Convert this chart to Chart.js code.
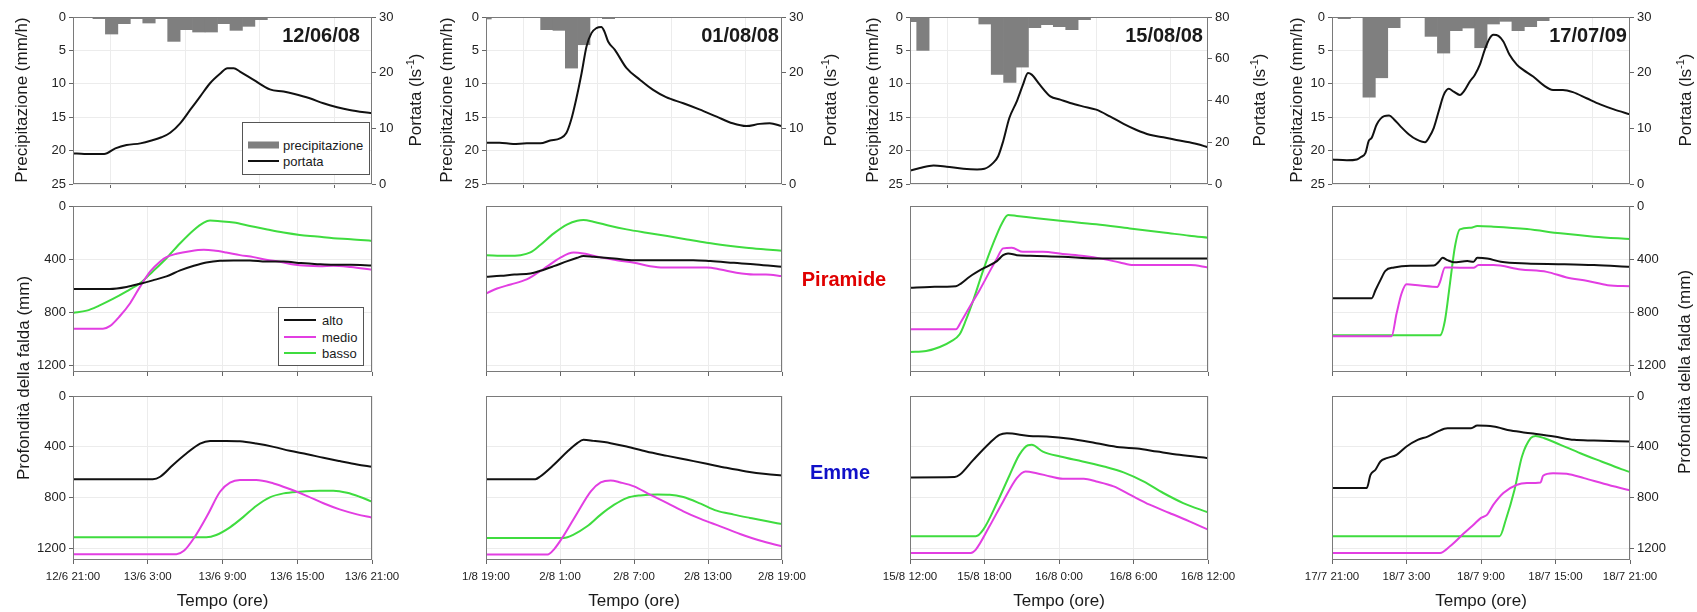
<!DOCTYPE html>
<html>
<head>
<meta charset="utf-8">
<script src="https://cdn.jsdelivr.net/npm/chart.js@4.4.0/dist/chart.umd.min.js"></script>
<style>
  body { margin: 0; background: #fff; }
  #tavola { position: relative; width: 1697px; height: 612px; overflow: hidden;
            font-family: 'Liberation Sans', Arial, sans-serif; color: #1a1a1a; }
  .pannello { position: absolute; }
  .testo { position: absolute; white-space: nowrap; transform: translate(-50%, -50%); }
  .verticale { font-size: 17px; transform: translate(-50%, -50%) rotate(-90deg); }
  .tempo { font-size: 17px; }
  .data { font-size: 20px; font-weight: bold; transform: translate(-100%, -50%); }
  .sito { font-size: 20px; font-weight: bold; }
  .legenda { position: absolute; box-sizing: border-box; border: 1px solid #555; background: #fff; font-size: 13px; }
  .legenda span { position: absolute; white-space: nowrap; transform: translateY(-50%); }
  sup { font-size: 11px; }
</style>
</head>
<body>
<div id="tavola"></div>
<script>
// eventi, ore sull'asse x (0-24 h dall'inizio finestra)
const eventi = ['12/06/08', '01/08/08', '15/08/08', '17/07/09'];
const oreEtichette = [
  ['12/6 21:00', '13/6 3:00', '13/6 9:00', '13/6 15:00', '13/6 21:00'],
  ['1/8 19:00', '2/8 1:00', '2/8 7:00', '2/8 13:00', '2/8 19:00'],
  ['15/8 12:00', '15/8 18:00', '16/8 0:00', '16/8 6:00', '16/8 12:00'],
  ['17/7 21:00', '18/7 3:00', '18/7 9:00', '18/7 15:00', '18/7 21:00']
];
const portataMax = [30, 30, 80, 30];
const portataPasso = [10, 10, 20, 10];
const tickProfondita = [0, 400, 800, 1200];

// pioggia oraria (mm/h): ora d'inizio della prima barra, poi una barra per ora
const pioggiaInizio = [1.6, -0.57, -0.46, -0.51];
const pioggia = [
  [0.25, 2.55, 1.0, 0.25, 0.9, 0.25, 3.65, 1.9, 2.25, 2.25, 1.0, 2.0, 1.4, 0.4],
  [0.3, 0, 0, 0, 0, 1.9, 2.0, 7.65, 4.15, 0, 0.25],
  [0.7, 5.0, 0, 0, 0, 0, 1.05, 8.6, 9.8, 7.5, 1.6, 1.15, 1.45, 1.9, 0.4],
  [0, 0.25, 0, 12.0, 9.1, 1.6, 0, 0, 2.9, 5.4, 2.05, 1.65, 4.6, 1.05, 0.65, 2.05, 1.45, 0.55]
];

// portata (l/s) come [ora, valore]
const portata = [
  [[0,5.5],[0.9,5.4],[1.9,5.4],[2.5,5.4],[3.4,6.4],[4.3,7.0],[5.4,7.3],[6.3,7.8],[7.1,8.4],[7.8,9.2],[8.6,10.9],[9.4,13.3],[10.2,15.7],[11.0,18.1],[11.8,19.8],[12.4,20.8],[12.9,20.8],[13.4,20.2],[14.5,18.7],[15.8,17.0],[16.9,16.6],[17.7,16.2],[19.0,15.4],[20.1,14.5],[21.2,13.8],[22.2,13.3],[24,12.7]],
  [[0,7.4],[1.1,7.4],[2.2,7.2],[3.3,7.3],[4.4,7.3],[5.2,7.8],[6.0,8.2],[6.5,9.1],[6.9,11.5],[7.3,15.1],[7.75,19.9],[8.15,24.7],[8.55,27.1],[8.95,28.0],[9.35,28.2],[9.6,27.4],[9.9,25.6],[10.45,24.1],[11.4,20.8],[12.5,18.7],[13.55,16.9],[14.6,15.6],[16.0,14.5],[17.3,13.4],[18.7,12.1],[20.0,10.9],[21.1,10.4],[22.2,10.8],[23.0,10.9],[24,10.4]],
  [[0,6.4],[0.8,7.7],[1.9,8.9],[2.95,8.3],[4.3,7.3],[5.4,7.0],[6.0,7.3],[6.7,10.1],[7.1,13.3],[7.5,20.4],[8.0,31.6],[8.6,39.6],[9.1,47.6],[9.5,53.2],[9.8,52.4],[10.45,47.6],[11.3,42.0],[12.1,40.4],[12.9,38.8],[13.9,37.2],[15.0,35.6],[16.1,32.4],[17.2,28.8],[18.2,26.0],[19.3,23.6],[20.4,22.4],[21.7,20.8],[23.1,19.2],[24,17.6]],
  [[0,4.4],[1.2,4.25],[2.0,4.4],[2.3,4.8],[2.7,5.6],[2.95,7.7],[3.2,8.3],[3.6,10.7],[4.2,12.2],[4.6,12.3],[5.0,11.6],[5.5,10.4],[6.2,8.9],[6.8,8.0],[7.5,7.5],[7.8,8.3],[8.2,10.1],[8.6,13.1],[9.0,16.0],[9.4,17.1],[9.8,16.6],[10.3,16.0],[10.7,16.9],[11.1,18.4],[11.5,19.6],[11.9,21.4],[12.3,24.1],[12.7,26.2],[13.0,26.8],[13.4,26.6],[13.8,25.6],[14.3,23.2],[14.9,21.4],[15.4,20.5],[16.2,19.3],[17.0,17.8],[17.8,16.9],[18.6,16.9],[19.4,16.5],[20.5,15.4],[21.6,14.3],[22.7,13.4],[24,12.5]]
];

// profondità della falda (mm), sito Piramide
const piramideAlto = [
  [[0,625],[2.95,625],[4.3,610],[5.4,585],[6.4,560],[7.5,530],[8.6,485],[9.7,450],[10.7,425],[11.8,412],[12.9,410],[14.2,410],[15.5,418],[16.9,418],[18.3,430],[19.6,438],[20.9,443],[22.3,443],[24,448]],
  [[0,533],[1.2,526],[2.3,516],[3.6,508],[4.4,488],[5.5,453],[6.6,415],[7.4,390],[7.9,377],[8.7,382],[10.4,395],[12.0,408],[13.6,408],[15.2,408],[16.8,408],[18.2,415],[20.1,428],[21.9,440],[24,458]],
  [[0,616],[1.6,609],[3.7,604],[4.1,584],[4.8,533],[5.9,470],[7.0,415],[7.5,370],[7.9,357],[8.6,370],[9.7,375],[12.3,382],[15.0,395],[17.7,395],[20.4,395],[24,395]],
  [[0,694],[3.2,694],[3.5,634],[3.9,558],[4.3,488],[5.0,463],[6.3,450],[8.2,448],[8.6,420],[8.9,390],[9.3,408],[9.8,423],[10.9,415],[11.4,420],[11.7,390],[12.5,395],[13.6,420],[15.7,433],[18.4,438],[21.1,445],[24,458]]
];
const piramideMedio = [
  [[0,925],[2.4,925],[2.95,905],[3.75,830],[4.6,730],[5.4,605],[6.2,493],[7.0,418],[7.5,385],[8.3,360],[9.4,340],[10.5,330],[11.3,335],[12.3,350],[13.4,370],[14.5,385],[15.5,405],[16.6,420],[17.7,440],[18.8,450],[19.8,453],[20.9,450],[22.3,460],[24,480]],
  [[0,659],[0.9,621],[2.0,591],[3.3,553],[3.9,521],[5.0,453],[6.0,390],[7.1,350],[7.9,357],[9.3,387],[10.6,408],[12.0,428],[13.3,453],[14.4,463],[16.0,463],[17.9,463],[19.0,478],[20.3,503],[21.7,516],[22.7,516],[24,528]],
  [[0,928],[3.7,928],[4.1,873],[4.8,760],[5.6,634],[6.4,496],[7.0,395],[7.5,319],[8.2,314],[9.1,345],[10.7,345],[12.3,362],[14.0,377],[15.6,400],[16.9,425],[18.0,445],[19.9,445],[22.6,445],[24,463]],
  [[0,981],[4.8,981],[5.2,810],[5.6,659],[6.0,589],[7.1,599],[8.5,609],[8.7,571],[9.1,463],[10.3,465],[11.4,465],[11.8,445],[13.0,445],[15.2,478],[17.3,496],[18.9,538],[20.6,564],[22.2,596],[24,604]]
];
const piramideBasso = [
  [[0,805],[1.1,788],[2.1,750],[3.2,700],[4.3,643],[5.4,580],[6.4,493],[7.5,393],[8.6,280],[9.7,180],[10.5,125],[11.0,110],[11.8,115],[12.9,125],[14.2,150],[15.5,175],[16.9,200],[18.2,218],[19.6,230],[20.9,243],[22.3,250],[24,263]],
  [[0,370],[1.7,375],[2.8,370],[3.6,350],[4.4,294],[5.5,206],[6.6,138],[7.4,111],[7.9,106],[8.7,118],[10.1,151],[11.4,176],[13.0,201],[14.7,226],[16.3,252],[17.9,277],[19.5,297],[21.1,314],[22.7,327],[24,337]],
  [[0,1099],[1.3,1092],[2.4,1062],[3.3,1019],[4.0,966],[4.5,860],[5.1,709],[5.9,483],[6.7,282],[7.4,131],[7.9,68],[8.6,75],[10.2,93],[12.3,113],[15.0,138],[17.7,169],[20.4,199],[22.5,224],[24,239]],
  [[0,974],[8.7,974],[9.1,860],[9.5,584],[9.9,307],[10.3,176],[11.2,164],[11.7,151],[13.0,156],[15.7,174],[18.4,206],[21.1,231],[24,249]]
];

// profondità della falda (mm), sito Emme
const emmeAlto = [
  [[0,654],[6.4,654],[7.0,635],[8.0,544],[9.1,452],[10.2,374],[11.0,353],[12.3,353],[13.4,356],[14.7,374],[16.1,400],[17.4,431],[18.8,458],[20.1,486],[21.4,512],[22.8,539],[24,557]],
  [[0,654],[4.0,654],[4.4,633],[5.5,541],[6.6,437],[7.4,371],[7.9,345],[8.7,353],[10.1,371],[11.4,397],[13.0,437],[14.7,471],[16.3,502],[17.9,533],[19.5,565],[21.1,593],[22.7,614],[24,625]],
  [[0,641],[3.6,638],[4.0,620],[5.1,502],[6.4,371],[7.2,306],[7.8,293],[9.6,314],[11.0,319],[12.9,337],[15.0,371],[16.9,403],[18.3,413],[19.9,437],[21.7,463],[24,489]],
  [[0,724],[2.8,724],[3.1,620],[3.5,580],[3.9,515],[4.4,489],[5.2,463],[6.0,397],[6.9,345],[7.7,319],[8.5,280],[9.3,254],[10.3,254],[11.2,254],[11.7,233],[13.0,240],[14.4,272],[16.0,293],[17.9,319],[19.5,345],[21.1,350],[24,358]]
];
const emmeMedio = [
  [[0,1244],[8.3,1244],[8.9,1218],[9.7,1119],[10.8,936],[11.8,753],[12.6,682],[13.4,661],[14.7,661],[16.1,688],[17.4,732],[18.8,787],[20.1,844],[21.4,892],[22.8,931],[24,957]],
  [[0,1247],[5.0,1247],[5.5,1208],[6.3,1098],[7.4,920],[8.5,750],[9.3,680],[10.1,664],[10.9,680],[12.0,711],[13.3,776],[14.7,842],[16.0,907],[17.4,967],[19.0,1025],[20.6,1085],[22.2,1137],[24,1182]],
  [[0,1234],[4.9,1234],[5.3,1208],[6.4,1025],[7.5,829],[8.6,646],[9.3,593],[10.2,607],[11.3,633],[12.3,651],[14.0,651],[15.0,672],[16.4,711],[17.7,776],[19.3,855],[20.9,920],[22.5,986],[24,1051]],
  [[0,1234],[8.7,1234],[9.5,1182],[10.6,1082],[11.4,1012],[12.0,959],[12.5,933],[13.0,855],[13.8,763],[14.9,698],[15.7,685],[16.8,680],[17.0,627],[17.8,607],[18.9,612],[20.3,646],[21.9,690],[24,742]]
];
const emmeBasso = [
  [[0,1111],[10.7,1111],[11.5,1093],[12.6,1033],[13.7,949],[14.7,865],[15.8,797],[16.9,766],[18.2,753],[19.8,745],[20.9,745],[22.0,761],[23.0,792],[24,831]],
  [[0,1116],[6.3,1116],[7.1,1090],[8.2,1025],[9.3,933],[10.4,855],[11.4,803],[12.5,782],[13.9,774],[14.9,776],[16.0,795],[17.4,847],[18.7,902],[20.1,933],[21.4,959],[22.8,986],[24,1007]],
  [[0,1103],[5.3,1103],[5.9,1051],[7.0,842],[8.0,627],[8.8,463],[9.5,387],[9.8,384],[10.7,437],[12.1,476],[13.9,515],[15.8,559],[17.2,601],[18.8,672],[20.4,763],[22.0,842],[24,915]],
  [[0,1103],[13.5,1103],[14.0,973],[14.7,737],[15.3,476],[16.0,332],[16.4,314],[17.1,332],[18.4,384],[20.0,450],[21.7,515],[23.3,575],[24,599]]
];

const livelli = ['alto', 'medio', 'basso'];
const coloriLivelli = ['#111111', '#e23ee2', '#3fdc3f'];

// geometria dei pannelli (px)
const colSx = [73, 486, 910, 1332];
const colDx = [372, 782, 1208, 1630];
const rigaSu = [17, 206, 396];
const rigaGiu = [184, 372, 560];
const profMax = [null, 1250, 1290];
const MS = 45, MT = 12, MB = 32;

Chart.defaults.font.family = "'Liberation Sans', Arial, sans-serif";
Chart.defaults.color = '#222';

const tavola = document.getElementById('tavola');

// bordo grigio attorno all'area del grafico
const cornice = {
  id: 'cornice',
  afterDatasetsDraw(chart) {
    const { ctx, chartArea: a } = chart;
    ctx.save();
    ctx.strokeStyle = '#7a7a7a';
    ctx.lineWidth = 1;
    ctx.strokeRect(a.left + 0.5, a.top + 0.5, a.width - 1, a.height - 1);
    ctx.restore();
  }
};

const punti = arr => arr.map(([x, y]) => ({ x, y }));

function asseX(col, conEtichette) {
  return {
    type: 'linear', min: 0, max: 24, offset: false,
    ticks: {
      stepSize: 6, display: conEtichette, autoSkip: false, maxRotation: 0,
      padding: 6, color: '#222', font: { size: 11.5 },
      callback: v => oreEtichette[col][v / 6]
    },
    grid: { color: '#ececec', tickColor: '#666', tickLength: 4 },
    border: { display: false },
    afterFit: s => { s.height = MB; }
  };
}

function asseY(pos, max, passo, rovescio, conEtichette, conGriglia, valori) {
  const asse = {
    type: 'linear', position: pos, min: 0, max, reverse: rovescio,
    ticks: {
      stepSize: passo, display: conEtichette,
      padding: 3, color: '#222', font: { size: 13 },
      callback: v => String(v)
    },
    grid: {
      drawOnChartArea: conGriglia, drawTicks: conEtichette,
      color: '#ececec', tickColor: '#666', tickLength: 4
    },
    border: { display: false },
    afterFit: s => { s.width = MS; }
  };
  if (valori) asse.afterBuildTicks = s => { s.ticks = valori.map(v => ({ value: v })); };
  return asse;
}

function pannello(col, riga, datasets, scales) {
  const w = colDx[col] - colSx[col] + 2 * MS;
  const h = rigaGiu[riga] - rigaSu[riga] + MT + MB;
  const box = document.createElement('div');
  box.className = 'pannello';
  box.style.left = (colSx[col] - MS) + 'px';
  box.style.top = (rigaSu[riga] - MT) + 'px';
  const cv = document.createElement('canvas');
  cv.width = w; cv.height = h;
  box.appendChild(cv);
  tavola.appendChild(box);
  new Chart(cv, {
    data: { datasets },
    options: {
      responsive: false, animation: false,
      layout: { padding: { top: MT, left: 0, right: 0, bottom: 0 } },
      plugins: { legend: { display: false }, tooltip: { enabled: false } },
      scales
    },
    plugins: [cornice]
  });
}

function linea(dati, colore, asse) {
  return {
    type: 'line', data: punti(dati), yAxisID: asse,
    borderColor: colore, borderWidth: 2, pointRadius: 0,
    cubicInterpolationMode: 'monotone', order: 1
  };
}

for (let c = 0; c < 4; c++) {
  // pioggia + portata
  const barre = pioggia[c].map((v, i) => ({ x: pioggiaInizio[c] + i + 0.5, y: v }));
  pannello(c, 0, [
    { type: 'bar', data: barre, yAxisID: 'y', backgroundColor: '#7f7f7f', borderWidth: 0,
      barPercentage: 1, categoryPercentage: 1, grouped: false, clip: 0, order: 2 },
    linea(portata[c], '#111111', 'yP')
  ], {
    x: asseX(c, false),
    y: asseY('left', 25, 5, true, true, true),
    yP: asseY('right', portataMax[c], portataPasso[c], false, true, false)
  });

  // falda: Piramide (riga 1) ed Emme (riga 2)
  const siti = [[piramideAlto, piramideMedio, piramideBasso], [emmeAlto, emmeMedio, emmeBasso]];
  siti.forEach((serie, k) => {
    const riga = k + 1;
    pannello(c, riga, serie.map((s, i) => linea(s[c], coloriLivelli[i], 'y')), {
      x: asseX(c, riga === 2),
      y: asseY('left', profMax[riga], 400, true, c === 0, true, tickProfondita),
      yR: asseY('right', profMax[riga], 400, true, c === 3, false, tickProfondita)
    });
  });
}

// testi
function testo(html, x, y, classe, stile) {
  const d = document.createElement('div');
  d.className = 'testo ' + classe;
  d.innerHTML = html;
  d.style.left = x + 'px';
  d.style.top = y + 'px';
  if (stile) Object.assign(d.style, stile);
  tavola.appendChild(d);
}

const titoloPioggiaX = [22, 447, 873, 1297];
const titoloPortataX = [415, 830, 1259, 1685];
const dataDx = [360, 779, 1203, 1627];
for (let c = 0; c < 4; c++) {
  testo('Precipitazione (mm/h)', titoloPioggiaX[c], 100, 'verticale');
  testo('Portata (ls<sup>-1</sup>)', titoloPortataX[c], 100, 'verticale');
  testo(eventi[c], dataDx[c], 35, 'data');
  testo('Tempo (ore)', (colSx[c] + colDx[c]) / 2, 601, 'tempo');
}
testo('Profondità della falda (mm)', 24, 378, 'verticale');
testo('Profondità della falda (mm)', 1685, 372, 'verticale');
testo('Piramide', 844, 279, 'sito', { color: '#e00000' });
testo('Emme', 840, 472, 'sito', { color: '#1010c8' });

// legende
function legenda(x, y, w, h, voci) {
  const d = document.createElement('div');
  d.className = 'legenda';
  Object.assign(d.style, { left: x + 'px', top: y + 'px', width: w + 'px', height: h + 'px' });
  voci.forEach(v => {
    const s = document.createElement('span');
    Object.assign(s.style, { left: v.sx + 'px', top: v.y + 'px', width: v.sw + 'px', height: v.sh + 'px', background: v.colore });
    const t = document.createElement('span');
    t.textContent = v.nome;
    Object.assign(t.style, { left: v.tx + 'px', top: v.y + 'px' });
    d.appendChild(s); d.appendChild(t);
  });
  tavola.appendChild(d);
}
legenda(242, 122, 128, 53, [
  { nome: 'precipitazione', colore: '#7f7f7f', y: 22, sx: 5, sw: 31, sh: 7, tx: 40 },
  { nome: 'portata', colore: '#111111', y: 38, sx: 5, sw: 31, sh: 2, tx: 40 }
]);
legenda(278, 307, 86, 59, livelli.map((n, i) => (
  { nome: n, colore: coloriLivelli[i], y: 12 + i * 16.5, sx: 5, sw: 32, sh: 2, tx: 43 }
)));
</script>
</body>
</html>
